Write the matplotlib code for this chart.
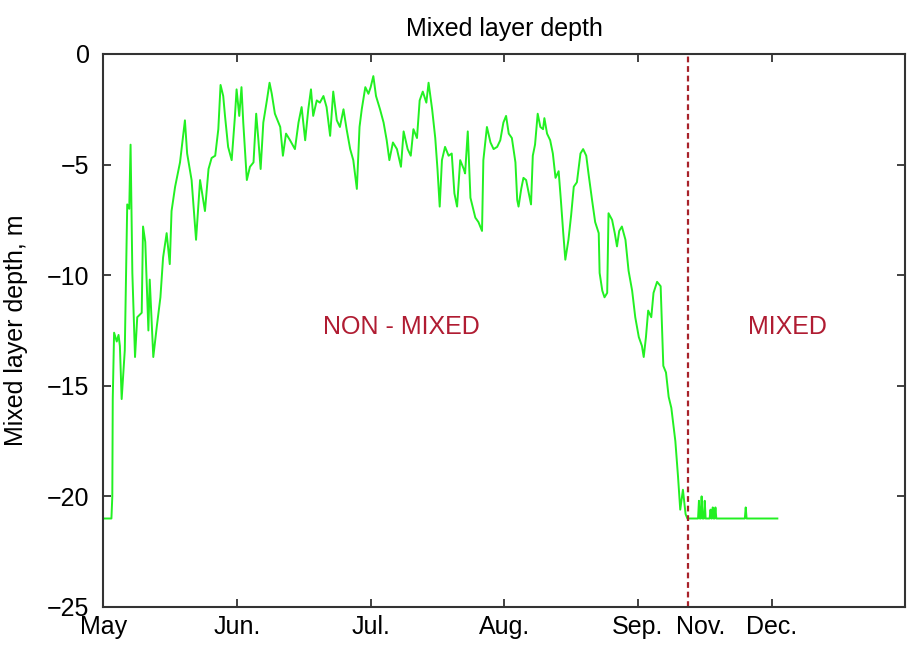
#!/usr/bin/env python3
# Profondeur de la couche de mélange (mai -> décembre)

import matplotlib
matplotlib.use("Agg")
import matplotlib.pyplot as plt
import numpy as np

plt.rcParams['font.family'] = ['Liberation Sans', 'DejaVu Sans']

# Jours depuis le 1er mai (1 mois = 30 jours sur l'axe)
days = [
    0.3, 1.8, 2.0, 2.1, 2.4, 3.0, 3.4, 3.7, 4.1, 4.8, 5.35, 5.8, 6.1, 6.5, 7.1, 7.6,
    8.6, 8.9, 9.4, 10.1, 10.4, 11.2, 12.0, 12.8, 13.4, 14.2, 14.9, 15.3, 16.1, 17.2,
    18.3, 18.8, 19.8, 20.8, 21.7,
    22.8, 23.6, 24.3, 25.1, 25.8, 26.3, 26.9, 27.3, 28.0, 28.8, 29.5, 29.9, 30.5,
    31.0, 31.4, 32.2, 32.9, 33.7, 34.3, 34.8, 35.3, 35.9, 36.7, 37.3, 37.8, 38.5,
    39.7, 40.3, 41.0, 41.9, 43.0, 43.8, 44.5, 45.3, 46.0, 46.6, 47.1, 47.9, 48.6,
    49.4, 50.1, 50.9, 51.6, 52.4, 53.1, 53.9, 54.6, 55.4, 56.1, 56.9, 57.5,
    58.0, 58.8, 59.5, 60.0, 60.6, 61.2, 62.1, 62.9, 63.6, 64.2, 65.0, 65.9, 66.8,
    67.4, 68.3, 69.0, 69.6, 70.4, 71.0, 71.7, 72.5, 73.0, 73.8, 74.5, 75.0, 75.5,
    76.0, 76.7, 77.5, 78.2, 78.8, 79.4, 80.1, 80.9, 81.2, 81.8, 82.4, 83.5, 84.2,
    85.0, 85.3, 86.1, 86.9, 87.6, 88.4, 89.1,
    89.8, 90.4, 91.0, 91.7, 92.5, 92.9, 93.2, 93.8, 94.3, 94.9, 95.5, 96.0, 96.4,
    96.9, 97.5, 98.1, 98.7, 99.0, 99.6, 100.3, 100.9, 101.5, 102.2, 102.7, 103.2,
    103.7, 104.4, 105.0, 105.6, 106.3, 107.1, 107.7, 108.4, 108.9, 109.7, 110.4,
    111.2, 111.4, 112.0, 112.5, 113.1, 113.4, 114.2, 114.8, 115.3, 115.8, 116.4,
    117.2, 117.9, 118.7, 119.4, 120.2, 120.9, 121.3, 121.8, 122.3, 123.0, 123.5,
    124.3, 125.1, 125.7, 126.3, 126.9, 127.5, 128.4, 129.0, 129.5, 130.1, 130.7, 131.1,
    131.4, 133.5, 133.7, 133.9, 134.1, 134.3, 134.5, 134.8, 135.0, 135.2, 136.1,
    136.3, 136.5, 136.6, 136.8, 137.0, 137.2, 137.4, 137.6, 144.0, 144.2, 144.4, 151.3,
]

# Profondeur (m)
depth = [
    -21.0, -21.0, -20.0, -15.6, -12.6, -13.0, -12.7, -13.2, -15.6, -13.4, -6.8, -7.0,
    -4.1, -9.9, -13.7, -11.9, -11.7, -7.8, -8.5, -12.5, -10.2, -13.7, -12.3, -11.0,
    -9.2, -8.1, -9.5, -7.1, -6.0, -4.9, -3.0, -4.5, -5.7, -8.4, -5.7,
    -7.1, -5.2, -4.7, -4.6, -3.4, -1.4, -1.9, -2.8, -4.2, -4.8, -2.9, -1.6, -2.8,
    -1.5, -3.1, -5.7, -5.1, -4.9, -2.7, -3.9, -5.2, -3.1, -2.1, -1.3, -1.8, -2.7,
    -3.3, -4.6, -3.6, -3.9, -4.3, -3.1, -2.4, -3.9, -2.5, -1.6, -2.8, -2.1, -2.2,
    -1.9, -2.4, -3.7, -1.7, -3.0, -3.3, -2.5, -3.4, -4.3, -4.8, -6.1, -3.3,
    -2.5, -1.5, -1.8, -1.5, -1.0, -1.9, -2.5, -3.1, -3.9, -4.8, -4.0, -4.3, -5.1,
    -3.5, -4.3, -4.6, -3.4, -3.8, -2.1, -1.7, -2.2, -1.3, -2.5, -3.8, -5.2, -6.9,
    -4.8, -4.2, -4.6, -4.5, -6.3, -6.9, -4.8, -5.2, -5.4, -3.5, -6.5, -7.4, -7.6,
    -8.0, -4.8, -3.3, -4.0, -4.3, -4.2, -3.9,
    -3.1, -2.8, -3.6, -3.8, -4.9, -6.6, -6.9, -6.1, -5.6, -5.7, -6.3, -6.8, -4.6,
    -4.1, -2.7, -3.3, -3.4, -2.9, -3.6, -3.9, -4.5, -5.6, -5.3, -6.6, -8.0,
    -9.3, -8.4, -7.3, -6.0, -5.8, -4.5, -4.3, -4.6, -5.4, -6.6, -7.6,
    -8.1, -9.9, -10.7, -11.0, -10.8, -7.2, -7.5, -8.1, -8.7, -8.0, -7.8,
    -8.4, -9.8, -10.7, -11.9, -12.8, -13.2, -13.7, -12.8, -11.6, -11.9, -10.8,
    -10.3, -10.5, -14.1, -14.4, -15.5, -16.0, -17.5, -19.1, -20.6, -19.7, -20.8, -21.0,
    -21.0, -21.0, -20.2, -21.0, -21.0, -20.0, -21.0, -21.0, -20.2, -21.0, -21.0,
    -20.6, -21.0, -21.0, -20.5, -21.0, -21.0, -20.5, -21.0, -21.0, -20.5, -21.0, -21.0,
]

month_ticks = [0, 30, 60, 90, 120, 150]
month_labels = ['May', 'Jun.', 'Jul.', 'Aug.', 'Sep.', 'Dec.']
nov_pos = 134          # étiquette "Nov." sans graduation
split_day = 131.3      # limite mélangé / non mélangé

FS = 18

fig = plt.figure(figsize=(9.07, 6.48), dpi=100)
ax = fig.add_axes([0.114, 0.0633, 0.884, 0.8534])

ax.plot(days, depth, color='#22f022', lw=1.4)
ax.axvline(split_day, color='#a8222a', ls=(0, (2.6, 1.7)), lw=1.6)

ax.text(67, -12.35, 'NON - MIXED', color='#b01c32', fontsize=FS, ha='center', va='center')
ax.text(153.6, -12.35, 'MIXED', color='#b01c32', fontsize=FS, ha='center', va='center')

ax.set_xlim(0, 180)
ax.set_ylim(-25, 0)
ax.set_yticks([0, -5, -10, -15, -20, -25])
ax.set_yticklabels(['0', '\u22125', '\u221210', '\u221215', '\u221220', '\u221225'])
ax.set_xticks(month_ticks)
ax.set_xticklabels(month_labels)
ax.set_xticks([nov_pos], labels=['Nov.'], minor=True)

ax.tick_params(which='major', direction='in', length=6, width=1.3, top=True, right=True,
               labelsize=FS, color='#333333')
ax.tick_params(axis='y', pad=10)
ax.tick_params(axis='x', pad=6)
ax.tick_params(axis='x', which='minor', length=0, top=False, labelsize=FS, pad=6)
for s in ax.spines.values():
    s.set_linewidth(1.5)
    s.set_color('#333333')

ax.set_title('Mixed layer depth', fontsize=FS, pad=13)
ax.set_ylabel('Mixed layer depth, m', fontsize=FS)
ax.yaxis.set_label_coords(-0.094, 0.5)

fig.savefig('out.png', dpi=100)
